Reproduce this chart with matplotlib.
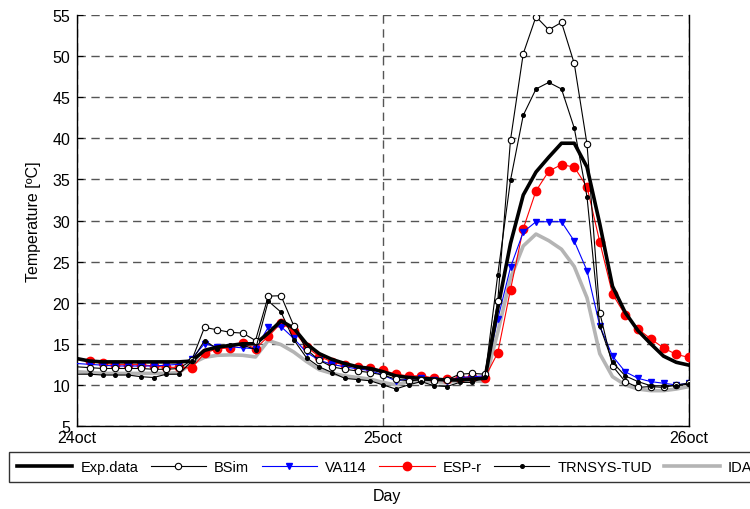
import matplotlib
matplotlib.use("Agg")
import matplotlib.pyplot as plt
import numpy as np

plt.rcParams['font.family'] = ['Liberation Sans', 'DejaVu Sans']

# hours from 24 Oct 00:00
hours = list(range(0, 49))
day_ticks = [0, 24, 48]
day_labels = ['24oct', '25oct', '26oct']
y_ticks = [5, 10, 15, 20, 25, 30, 35, 40, 45, 50, 55]

exp_data = [13.2, 12.9, 12.8, 12.8, 12.8, 12.8, 12.8, 12.8, 12.8, 12.9,
            14.2, 14.6, 14.8, 15.0, 15.0, 16.3, 17.8, 16.9, 15.0, 13.8,
            13.1, 12.6, 12.2, 12.0, 11.6, 11.1, 10.9, 10.8, 10.7, 10.6,
            10.6, 10.7, 10.8, 19.3, 27.2, 33.1, 35.9, 37.7, 39.4, 39.4,
            36.5, 29.6, 22.0, 18.8, 16.6, 15.0, 13.5, 12.75, 12.4]
bsim = [12.2, 12.1, 12.0, 12.0, 12.0, 12.0, 11.9, 11.9, 12.0, 13.0,
        17.0, 16.7, 16.4, 16.3, 15.4, 20.8, 20.85, 17.2, 14.3, 13.0,
        12.2, 11.9, 11.7, 11.5, 11.2, 10.7, 10.5, 10.6, 10.5, 10.6,
        11.3, 11.4, 11.3, 20.2, 39.8, 50.3, 54.8, 53.2, 54.1, 49.1,
        39.3, 18.8, 12.3, 10.4, 9.7, 9.8, 9.7, 10.0, 10.2]
va114 = [12.6, 12.5, 12.4, 12.3, 12.3, 12.3, 12.3, 12.4, 12.5, 13.2,
         15.0, 14.6, 14.65, 14.5, 14.4, 17.0, 17.1, 15.65, 13.95, 13.0,
         12.5, 12.2, 11.95, 11.75, 11.2, 10.5, 10.7, 10.8, 10.6, 10.5,
         10.9, 11.0, 11.1, 18.0, 24.3, 28.6, 29.85, 29.85, 29.85, 27.5,
         23.9, 17.2, 13.5, 11.6, 10.8, 10.4, 10.2, 10.0, 10.2]
esp_r = [13.1, 12.85, 12.66, 12.46, 12.46, 12.46, 12.3, 12.14, 12.14, 12.05,
         13.85, 14.4, 14.5, 15.1, 14.4, 15.9, 17.5, 16.6, 14.6, 13.45,
         12.8, 12.4, 12.15, 12.0, 11.8, 11.3, 11.1, 11.1, 10.85, 10.7,
         10.9, 10.95, 10.9, 13.9, 21.6, 29.0, 33.6, 36.0, 36.8, 36.5,
         34.1, 27.4, 21.05, 18.5, 16.8, 15.6, 14.5, 13.7, 13.35]
trnsys = [11.3, 11.3, 11.2, 11.2, 11.2, 11.0, 10.9, 11.3, 11.3, 12.9,
          15.4, 14.4, 14.8, 14.85, 14.3, 20.2, 18.85, 15.5, 13.3, 12.2,
          11.5, 10.8, 10.65, 10.5, 10.0, 9.5, 10.0, 10.4, 9.9, 9.8,
          10.3, 10.3, 11.0, 23.4, 34.9, 42.8, 46.0, 46.8, 46.0, 41.25,
          32.9, 17.2, 12.75, 11.1, 10.4, 9.9, 9.9, 9.9, 10.1]
ida = [11.6, 11.5, 11.4, 11.4, 11.4, 11.4, 11.4, 11.4, 11.5, 12.6,
       13.35, 13.6, 13.65, 13.6, 13.4, 15.4, 14.9, 14.0, 12.85, 11.85,
       11.4, 11.1, 10.9, 10.7, 10.3, 10.0, 10.4, 10.5, 10.4, 10.3,
       10.5, 10.5, 10.4, 16.4, 23.0, 26.9, 28.35, 27.55, 26.5, 24.4,
       20.6, 13.8, 11.0, 10.0, 9.5, 9.3, 9.3, 9.5, 9.8]

fig = plt.figure(figsize=(7.5, 5.1), dpi=100)
ax = fig.add_axes([77/750, 1-427/510, (689-77)/750, (427-16)/510])

mk = list(range(1, 49))
l_ida, = ax.plot(hours, ida, color='#b4b4b4', lw=2.6, label='IDA', zorder=2)
l_esp, = ax.plot(hours, esp_r, color='#ff0000', lw=0.8, marker='o', ms=6,
                 markevery=mk, mec='#ff0000', mfc='#ff0000', label='ESP-r', zorder=3)
l_va, = ax.plot(hours, va114, color='#0000ff', lw=0.8, marker='v', ms=4.5,
                markevery=mk, mec='#0000ff', mfc='#0000ff', label='VA114', zorder=4)
l_exp, = ax.plot(hours, exp_data, color='black', lw=2.6, label='Exp.data', zorder=5)
l_bsim, = ax.plot(hours, bsim, color='black', lw=0.8, marker='o', ms=4.6,
                  markevery=mk, mfc='white', mec='black', mew=0.8, label='BSim', zorder=6)
l_trn, = ax.plot(hours, trnsys, color='black', lw=0.8, marker='o', ms=2.6,
                 markevery=mk, mfc='black', mec='black', label='TRNSYS-TUD', zorder=7)

ax.set_xlim(0, 48)
ax.set_ylim(5, 55)
ax.set_xticks(day_ticks)
ax.set_xticklabels(day_labels)
ax.set_yticks(y_ticks)
ax.tick_params(axis='both', direction='in', length=4, width=0.8, labelsize=11.5,
               colors='black')
ax.tick_params(axis='y', pad=5)
ax.tick_params(axis='x', pad=3, length=0)

ax.set_axisbelow(True)
ax.grid(True, which='major', ls=(0, (6, 4)), color='#555555', lw=1.0)
ax.spines['top'].set_visible(False)
for s in ['left', 'bottom', 'right']:
    ax.spines[s].set_linewidth(1.0)

ax.set_ylabel('Temperature [ºC]', fontsize=11.5, labelpad=8)
fig.text(387/750, 1-497/510, 'Day', ha='center', va='center', fontsize=11.5)

handles = [l_exp, l_bsim, l_va, l_esp, l_trn, l_ida]
leg = fig.legend(handles, [h.get_label() for h in handles], ncol=6,
                 loc='upper left', bbox_to_anchor=(9/750, 1-453/510),
                 bbox_transform=fig.transFigure, borderaxespad=0,
                 fontsize=10.5, handlelength=3.8, handletextpad=0.55,
                 columnspacing=0.85, fancybox=False, frameon=True,
                 borderpad=0.55, numpoints=1)
leg.get_frame().set_edgecolor('black')
leg.get_frame().set_linewidth(1.0)

fig.savefig('out.png', dpi=100)
